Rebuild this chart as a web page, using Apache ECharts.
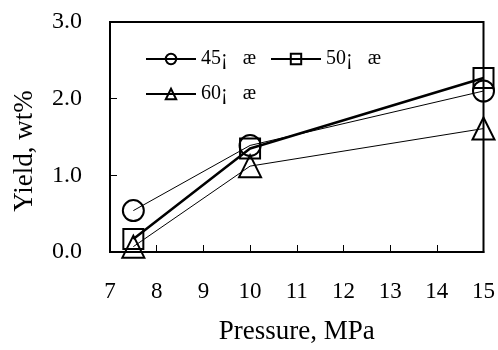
<!DOCTYPE html>
<html>
<head>
<meta charset="utf-8">
<script src="https://cdn.jsdelivr.net/npm/echarts@6/dist/echarts.min.js"></script>
<style>
  html, body { margin: 0; padding: 0; background: #fff; }
  #chart { width: 498px; height: 350px; }
</style>
</head>
<body>
<div id="chart"></div>
<script>
// pressure points (MPa) and yield (wt%) for each temperature
const pressure = [7.5, 10, 15]
const yield45 = [0.54, 1.39, 2.10]
const yield50 = [0.17, 1.35, 2.27]
const yield60 = [0.07, 1.12, 1.61]
const names = ['45¡   æ', '50¡   æ', '60¡   æ']

const font = 'Liberation Serif'
const pairs = ys => pressure.map((x, i) => [x, ys[i]])

const chart = echarts.init(document.getElementById('chart'), null, { renderer: 'canvas' })

const mkSeries = (name, ys, symbol, size, lineWidth) => ({
  name,
  type: 'line',
  data: pairs(ys),
  symbol,
  symbolSize: size,
  clip: false,
  lineStyle: { color: '#000', width: lineWidth },
  itemStyle: { color: 'rgba(0,0,0,0)', borderColor: '#000', borderWidth: 2 },
  emphasis: { disabled: true },
})

chart.setOption({
  backgroundColor: '#fff',
  animation: false,
  textStyle: { fontFamily: font, color: '#000' },
  grid: {
    left: 110, right: 14, top: 22, bottom: 98,
    show: true, borderColor: '#000', borderWidth: 2,
  },
  legend: [
    {
      data: [names[0], names[1]],
      left: 140, top: 44,
      itemWidth: 50, itemHeight: 13, itemGap: 14,
      textStyle: { fontFamily: font, fontSize: 20, color: '#000' },
    },
    {
      data: [names[2]],
      left: 140, top: 79,
      itemWidth: 50, itemHeight: 13,
      textStyle: { fontFamily: font, fontSize: 20, color: '#000' },
    },
  ],
  xAxis: {
    type: 'value',
    min: 7, max: 15, interval: 1,
    name: 'Pressure, MPa',
    nameLocation: 'middle',
    nameGap: 66,
    nameTextStyle: { fontFamily: font, fontSize: 27, color: '#000' },
    axisLine: { lineStyle: { color: '#000', width: 2 } },
    axisTick: { inside: true, length: 7, lineStyle: { color: '#000', width: 1 } },
    axisLabel: { margin: 28, fontFamily: font, fontSize: 23, color: '#000' },
    splitLine: { show: false },
  },
  yAxis: {
    type: 'value',
    min: 0, max: 3, interval: 1,
    name: 'Yield, wt%',
    nameLocation: 'middle',
    nameGap: 72,
    nameTextStyle: { fontFamily: font, fontSize: 27, color: '#000', padding: [0, 28, 0, 0] },
    axisLine: { lineStyle: { color: '#000', width: 2 } },
    axisTick: { inside: true, length: 7, lineStyle: { color: '#000', width: 1 } },
    axisLabel: {
      margin: 28, fontFamily: font, fontSize: 24, color: '#000',
      formatter: v => v.toFixed(1),
    },
    splitLine: { show: false },
  },
  series: [
    mkSeries(names[0], yield45, 'circle', 21, 1),
    mkSeries(names[1], yield50, 'rect', 20, 2.5),
    mkSeries(names[2], yield60, 'triangle', 22, 1),
  ],
})
</script>
</body>
</html>
